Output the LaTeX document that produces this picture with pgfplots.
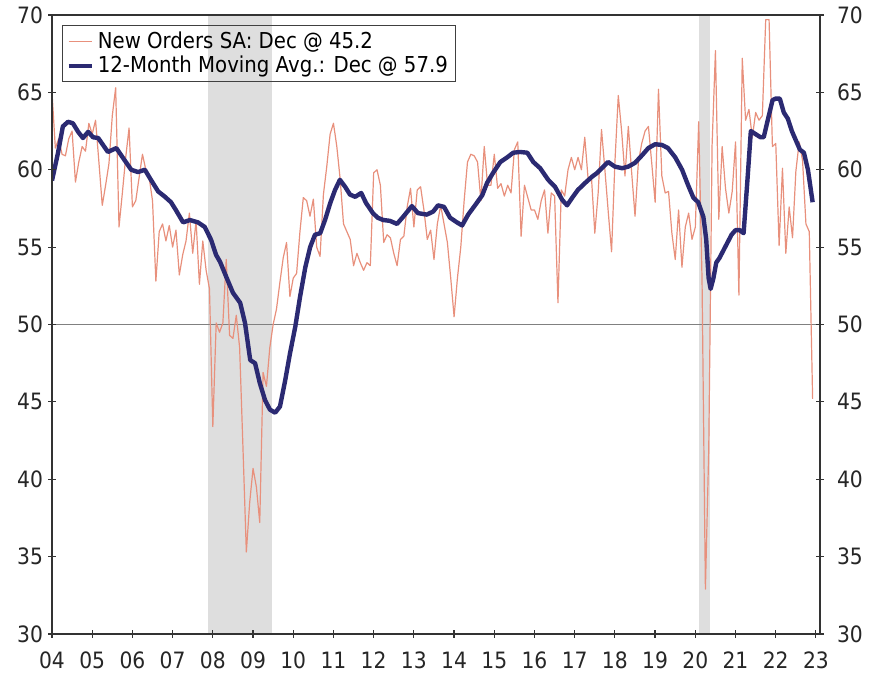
\documentclass[border=0pt]{standalone}
\usepackage{pgfplots}
\pgfplotsset{compat=1.18}
\usepackage{pgfplotstable}
\usepackage{fontspec}
\setmainfont{DejaVu Sans}[FakeStretch=0.9]
\definecolor{redl}{HTML}{E8907C}
\definecolor{navy}{HTML}{2B2A72}
\definecolor{recgray}{HTML}{DEDEDE}

\pgfplotstableread{
m v
0 65.0
1 61.4
2 62.0
3 61.0
4 60.9
5 62.0
6 62.5
7 59.2
8 60.5
9 61.5
10 61.2
11 63.0
12 62.3
13 63.2
14 60.5
15 57.7
16 59.0
17 60.4
18 63.5
19 65.3
20 56.3
21 58.5
22 60.8
23 62.7
24 57.6
25 58.0
26 59.5
27 61.0
28 60.0
29 59.5
30 58.0
31 52.8
32 56.0
33 56.5
34 55.4
35 56.4
36 55.0
37 56.1
38 53.2
39 54.5
40 55.4
41 57.2
42 54.6
43 56.7
44 52.6
45 55.4
46 53.5
47 52.3
48 43.4
49 50.1
50 49.5
51 50.1
52 54.2
53 49.3
54 49.1
55 50.6
56 48.5
57 42.0
58 35.3
59 38.5
60 40.7
61 39.5
62 37.2
63 46.9
64 46.0
65 48.5
66 50.0
67 51.0
68 52.7
69 54.3
70 55.3
71 51.8
72 53.0
73 53.3
74 56.0
75 58.2
76 58.0
77 57.0
78 58.1
79 55.0
80 54.4
81 58.4
82 60.2
83 62.3
84 63.0
85 61.5
86 59.4
87 56.5
88 56.0
89 55.5
90 53.8
91 54.6
92 54.0
93 53.5
94 54.0
95 53.8
96 59.8
97 60.0
98 59.0
99 55.3
100 55.8
101 55.6
102 54.6
103 53.8
104 55.5
105 55.7
106 57.6
107 58.8
108 56.3
109 58.7
110 58.9
111 57.4
112 55.5
113 56.1
114 54.2
115 56.5
116 57.7
117 56.5
118 55.3
119 53.0
120 50.5
121 53.0
122 55.0
123 58.0
124 60.5
125 61.0
126 60.9
127 60.5
128 58.0
129 61.5
130 59.0
131 59.0
132 61.0
133 58.8
134 59.1
135 58.3
136 59.0
137 58.5
138 61.3
139 61.8
140 55.7
141 59.0
142 58.2
143 57.4
144 57.4
145 56.8
146 58.0
147 58.7
148 55.9
149 58.5
150 58.3
151 51.4
152 58.7
153 58.3
154 60.0
155 60.8
156 60.0
157 60.8
158 60.0
159 62.1
160 59.4
161 59.5
162 55.9
163 58.5
164 62.6
165 60.0
166 57.3
167 54.7
168 60.5
169 64.8
170 62.5
171 59.6
172 62.8
173 59.8
174 57.0
175 60.5
176 61.7
177 62.5
178 62.8
179 60.4
180 57.9
181 65.2
182 59.6
183 58.5
184 58.6
185 55.9
186 54.2
187 57.4
188 53.7
189 56.3
190 57.2
191 55.5
192 56.3
193 63.1
194 52.9
195 32.9
196 41.9
197 61.6
198 67.7
199 56.8
200 61.5
201 58.8
202 57.2
203 58.6
204 61.8
205 51.9
206 67.2
207 63.2
208 63.9
209 62.1
210 63.7
211 63.2
212 63.5
213 69.7
214 69.7
215 61.5
216 61.7
217 55.1
218 60.1
219 54.6
220 57.6
221 55.6
222 59.9
223 61.8
224 60.6
225 56.5
226 56.0
227 45.2
}\neworders

\pgfplotstableread{
x y
2004.00 59.3
2004.15 61.1
2004.27 62.8
2004.40 63.1
2004.52 63.0
2004.65 62.45
2004.77 62.05
2004.90 62.45
2005.02 62.1
2005.15 62.05
2005.27 61.6
2005.39 61.15
2005.60 61.4
2005.77 60.75
2005.97 60.0
2006.14 59.85
2006.31 60.0
2006.46 59.35
2006.64 58.6
2006.81 58.25
2006.96 57.9
2007.08 57.4
2007.26 56.6
2007.43 56.75
2007.63 56.6
2007.80 56.3
2007.96 55.45
2008.08 54.5
2008.18 54.05
2008.33 53.1
2008.50 52.05
2008.68 51.4
2008.80 50.1
2008.93 47.7
2009.05 47.5
2009.17 46.2
2009.30 45.1
2009.42 44.5
2009.55 44.3
2009.67 44.7
2009.80 46.4
2009.92 48.15
2010.05 49.85
2010.17 51.8
2010.30 53.7
2010.42 55.0
2010.54 55.8
2010.67 55.9
2010.79 56.75
2010.92 57.85
2011.04 58.7
2011.16 59.35
2011.29 58.9
2011.41 58.4
2011.54 58.25
2011.69 58.5
2011.81 57.85
2011.98 57.2
2012.10 56.9
2012.24 56.75
2012.40 56.7
2012.58 56.5
2012.73 56.95
2012.95 57.65
2013.10 57.2
2013.32 57.1
2013.48 57.3
2013.60 57.7
2013.75 57.6
2013.90 56.9
2014.07 56.6
2014.20 56.4
2014.35 57.1
2014.52 57.7
2014.70 58.35
2014.82 59.15
2014.97 59.8
2015.15 60.5
2015.32 60.8
2015.47 61.1
2015.64 61.15
2015.82 61.1
2015.97 60.5
2016.14 60.1
2016.34 59.35
2016.51 58.9
2016.69 58.05
2016.81 57.7
2016.94 58.2
2017.08 58.7
2017.26 59.15
2017.43 59.55
2017.56 59.8
2017.71 60.2
2017.83 60.5
2018.00 60.2
2018.18 60.1
2018.33 60.2
2018.50 60.45
2018.68 60.95
2018.83 61.4
2019.00 61.65
2019.17 61.6
2019.32 61.4
2019.50 60.8
2019.67 60.0
2019.82 59.0
2019.95 58.2
2020.07 57.9
2020.20 56.95
2020.27 55.5
2020.33 53.0
2020.38 52.3
2020.45 53.0
2020.52 54.0
2020.60 54.3
2020.70 54.8
2020.80 55.3
2020.90 55.8
2021.00 56.1
2021.10 56.1
2021.20 55.9
2021.30 59.5
2021.38 62.5
2021.50 62.3
2021.62 62.1
2021.70 62.1
2021.80 63.2
2021.92 64.5
2022.00 64.6
2022.10 64.6
2022.20 63.7
2022.30 63.3
2022.40 62.5
2022.50 61.9
2022.60 61.3
2022.70 61.1
2022.80 60.0
2022.917 57.9
}\movavg

\begin{document}
\begin{tikzpicture}[font=\fontsize{11}{13}\selectfont]
\pgfplotsset{
  common/.style={
    scale only axis, width=384bp, height=309.5bp,
    xmin=2004, xmax=2023.1, ymin=30, ymax=70,
    ytick={30,35,...,70},
    tick align=center, major tick length=4bp,
    axis line style={draw=black!80, line width=0.7bp},
    tick style={draw=black!80, line width=0.6bp},
    /pgf/number format/assume math mode=true,
    tick label style={font=\fontsize{11.3}{13}\selectfont, text=black!85},
  }
}
\begin{axis}[common,
  axis on top,
  xtick={2004,...,2023},
  xticklabels={04,05,06,07,08,09,10,11,12,13,14,15,16,17,18,19,20,21,22,23},
  xticklabel style={yshift=-3.5bp},
  yticklabel style={xshift=1bp},
  xtick pos=bottom, ytick pos=left,
  legend style={at={(axis description cs:0.013,0.984)}, anchor=north west,
    draw=black!75, line width=0.5bp, fill=none, inner xsep=2bp, inner ysep=1bp,
    font=\fontsize{11}{12}\selectfont, row sep=-1.5bp},
  legend cell align=left,
  legend image code/.code={\draw[#1] (0bp,0bp) -- (11.5bp,0bp);},
]
\fill[recgray] (axis cs:2007.89,30) rectangle (axis cs:2009.465,70);
\fill[recgray] (axis cs:2020.10,30) rectangle (axis cs:2020.36,70);
\addplot[gray, line width=0.8bp, forget plot] coordinates {(2004,50) (2023.1,50)};
\addplot[redl, line width=0.6bp, line join=round] table[x expr=2004+\thisrow{m}/12, y=v] {\neworders};
\addlegendentry{New Orders SA: Dec @ 45.2}
\addplot[navy, line width=2.2bp, line join=round] table[x=x, y=y] {\movavg};
\addlegendentry{12-Month Moving Avg.: Dec @ 57.9}
\coordinate (SW) at (rel axis cs:0,0);
\coordinate (NE) at (rel axis cs:1,1);
\end{axis}
\begin{axis}[common,
  axis y line*=right, axis x line=none,
  xtick=\empty,
  yticklabel style={xshift=3bp},
]
\end{axis}
\pgfresetboundingbox
\path ([shift={(-26bp,-23.5bp)}]SW) rectangle ([shift={(26bp,7.5bp)}]NE);
\end{tikzpicture}
\end{document}
